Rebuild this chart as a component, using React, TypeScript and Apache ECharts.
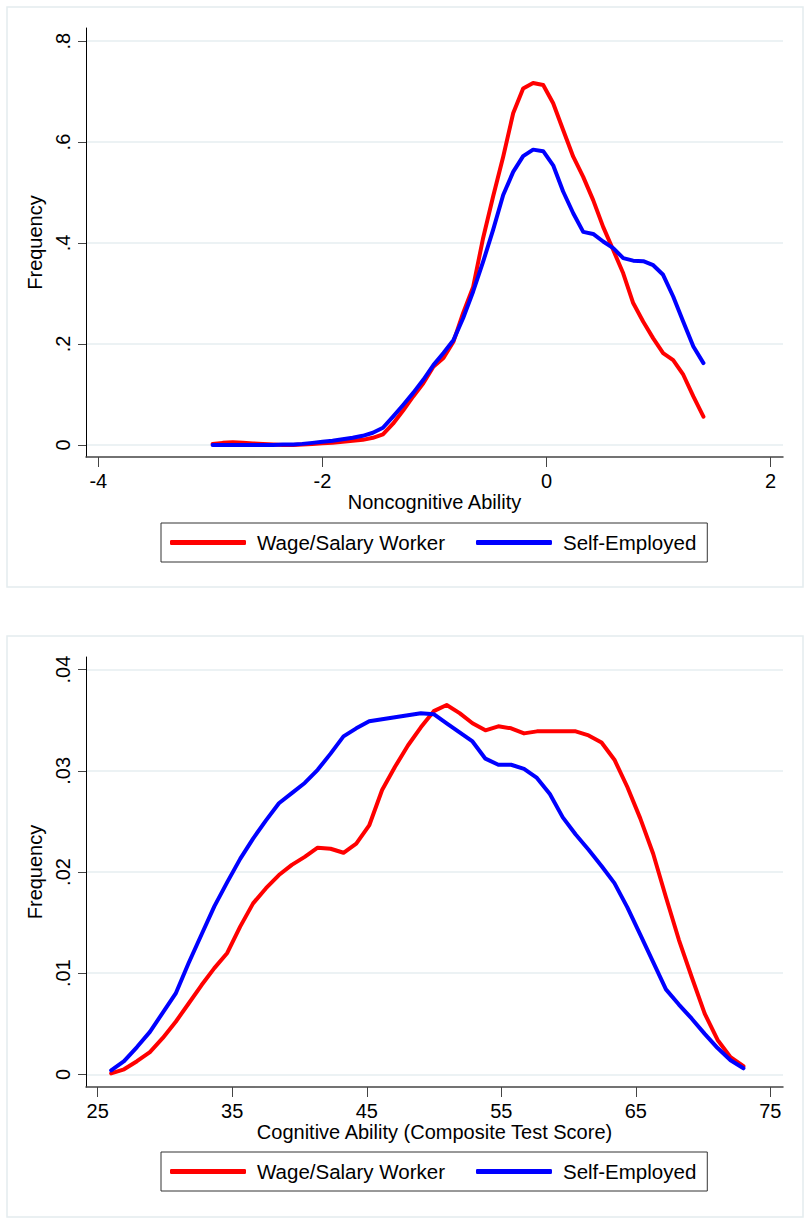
import React, { useEffect, useRef } from 'react';
import * as echarts from 'echarts';

// Top panel: Noncognitive Ability (kernel density evaluation points)
const ncX = [
  -2.98, -2.89, -2.8, -2.71, -2.62, -2.53, -2.44, -2.35, -2.26, -2.18,
  -2.09, -2.0, -1.91, -1.82, -1.73, -1.64, -1.55, -1.46, -1.37, -1.28,
  -1.19, -1.1, -1.01, -0.92, -0.83, -0.745, -0.655, -0.566, -0.477, -0.387,
  -0.298, -0.209, -0.12, -0.03, 0.059, 0.148, 0.238, 0.327, 0.416, 0.505,
  0.595, 0.684, 0.773, 0.863, 0.952, 1.04, 1.13, 1.22, 1.31, 1.4,
];
const ncWage = [
  0.002, 0.004, 0.005, 0.004, 0.003, 0.002, 0.001, 0.0, 0.0, 0.001,
  0.002, 0.003, 0.004, 0.006, 0.008, 0.01, 0.014, 0.021, 0.042, 0.068,
  0.096, 0.122, 0.155, 0.172, 0.205, 0.261, 0.313, 0.41, 0.492, 0.571,
  0.657, 0.706, 0.717, 0.713, 0.677, 0.624, 0.571, 0.531, 0.485, 0.432,
  0.386, 0.34, 0.281, 0.244, 0.211, 0.182, 0.168, 0.139, 0.096, 0.056,
];
const ncSelf = [
  0.0, 0.0, 0.0, 0.0, 0.0, 0.0, 0.0, 0.001, 0.001, 0.002,
  0.004, 0.006, 0.008, 0.011, 0.014, 0.018, 0.024, 0.034, 0.056, 0.079,
  0.103, 0.129, 0.158, 0.182, 0.208, 0.251, 0.304, 0.363, 0.426, 0.495,
  0.541, 0.572, 0.585, 0.582, 0.554, 0.502, 0.459, 0.422, 0.418, 0.403,
  0.39, 0.37, 0.365, 0.364, 0.356, 0.337, 0.294, 0.244, 0.195, 0.162,
];

// Bottom panel: Cognitive Ability (Composite Test Score)
const cgX = [
  26.0, 26.96, 27.92, 28.88, 29.84, 30.8, 31.76, 32.71, 33.67, 34.63,
  35.59, 36.55, 37.51, 38.47, 39.43, 40.39, 41.35, 42.31, 43.27, 44.22,
  45.18, 46.14, 47.1, 48.06, 49.02, 49.98, 50.94, 51.9, 52.86, 53.82,
  54.78, 55.73, 56.69, 57.65, 58.61, 59.57, 60.53, 61.49, 62.45, 63.41,
  64.37, 65.33, 66.29, 67.24, 68.2, 69.16, 70.12, 71.08, 72.04, 73.0,
];
const cgWage = [
  0.0001, 0.0005, 0.0013, 0.0022, 0.0036, 0.0052, 0.007, 0.0088, 0.0105, 0.012,
  0.0146, 0.0169, 0.0184, 0.0197, 0.0207, 0.0215, 0.0224, 0.0223, 0.0219, 0.0228,
  0.0246, 0.0281, 0.0304, 0.0325, 0.0343, 0.0359, 0.0365, 0.0357, 0.0347, 0.034,
  0.0344, 0.0342, 0.0337, 0.0339, 0.0339, 0.0339, 0.0339, 0.0335, 0.0328, 0.0311,
  0.0284, 0.0253, 0.0218, 0.0175, 0.0133, 0.0096, 0.006, 0.0034, 0.0017, 0.0008,
];
const cgSelf = [
  0.0004, 0.0013, 0.0027, 0.0042, 0.0061, 0.008, 0.011, 0.0138, 0.0166, 0.019,
  0.0213, 0.0233, 0.0251, 0.0268, 0.0278, 0.0288, 0.0301, 0.0317, 0.0334, 0.0342,
  0.0349, 0.0351, 0.0353, 0.0355, 0.0357, 0.0356, 0.0347, 0.0338, 0.0329, 0.0312,
  0.0306, 0.0306, 0.0302, 0.0293, 0.0277, 0.0254, 0.0237, 0.0222, 0.0206, 0.0189,
  0.0165, 0.0138, 0.0111, 0.0084, 0.0069, 0.0055, 0.004, 0.0026, 0.0014, 0.0006,
];

const ncXTicks = [-4, -2, 0, 2];
const ncYTicks = [0, 0.2, 0.4, 0.6, 0.8];
const cgXTicks = [25, 35, 45, 55, 65, 75];
const cgYTicks = [0, 0.01, 0.02, 0.03, 0.04];

const seriesNames = ['Wage/Salary Worker', 'Self-Employed'];
const RED = '#ff0000';
const BLUE = '#0000ff';
const FONT = '"Liberation Sans", Arial, Helvetica, sans-serif';

function fmtY(v: number): string {
  if (v === 0) return '0';
  return String(v).replace(/^0(?=\.)/, '');
}

function xAxisOpt(grid: number, min: number, max: number, ticks: number[], name: string) {
  return {
    type: 'value',
    gridIndex: grid,
    min,
    max,
    name,
    nameLocation: 'middle',
    nameGap: 33,
    nameTextStyle: { fontSize: 20, color: '#000', fontFamily: FONT },
    axisLine: { show: true, onZero: false, lineStyle: { color: '#444', width: 1.5 } },
    axisTick: { show: true, length: 10, customValues: ticks, lineStyle: { color: '#444', width: 1 } },
    axisLabel: {
      customValues: ticks,
      margin: 14,
      fontSize: 20,
      color: '#000',
      fontFamily: FONT,
      formatter: (v: number) => String(v),
    },
    splitLine: { show: false },
  };
}

function yAxisOpt(grid: number, min: number, max: number, ticks: number[]) {
  return {
    type: 'value',
    gridIndex: grid,
    min,
    max,
    name: 'Frequency',
    nameLocation: 'middle',
    nameGap: 30,
    nameRotate: 90,
    nameTextStyle: { fontSize: 20, color: '#000', fontFamily: FONT },
    axisLine: { show: true, onZero: false, lineStyle: { color: '#000', width: 1 } },
    axisTick: { show: true, length: 8, customValues: ticks, lineStyle: { color: '#444', width: 1 } },
    axisLabel: {
      customValues: ticks,
      rotate: 90,
      margin: 13,
      fontSize: 20,
      color: '#000',
      fontFamily: FONT,
      formatter: (v: number) => fmtY(v),
    },
    splitLine: { show: true, lineStyle: { color: '#e6eef0', width: 1.5 } },
  };
}

function lineSeries(name: string, color: string, axis: number, xs: number[], ys: number[]) {
  return {
    type: 'line',
    name,
    xAxisIndex: axis,
    yAxisIndex: axis,
    data: xs.map((x, i) => [x, ys[i]]),
    symbol: 'none',
    smooth: false,
    lineStyle: { color, width: 4, cap: 'round', join: 'round' },
    itemStyle: { color },
  };
}

function legendOpt(top: number) {
  return {
    left: 161,
    top,
    orient: 'horizontal',
    data: seriesNames.map((n) => ({ name: n, icon: 'roundRect' })),
    itemWidth: 76,
    itemHeight: 5,
    itemGap: 31,
    padding: [9, 11, 9, 9],
    borderColor: '#333',
    borderWidth: 1,
    borderRadius: 0,
    selectedMode: false,
    textStyle: { fontSize: 20.5, color: '#000', fontFamily: FONT, padding: [0, 0, 0, 6] },
  };
}

export default function App() {
  const ref = useRef<HTMLDivElement>(null);

  useEffect(() => {
    if (!ref.current) return;
    const chart = echarts.init(ref.current, null, { renderer: 'svg', width: 804, height: 1218 });
    chart.setOption({
      animation: false,
      backgroundColor: '#ffffff',
      textStyle: { fontFamily: FONT },
      graphic: [
        {
          type: 'rect',
          shape: { x: 7, y: 7, width: 796, height: 580 },
          style: { fill: 'none', stroke: '#e4ecee', lineWidth: 1.5 },
          silent: true,
        },
        {
          type: 'rect',
          shape: { x: 7, y: 636, width: 796, height: 581 },
          style: { fill: 'none', stroke: '#e4ecee', lineWidth: 1.5 },
          silent: true,
        },
      ],
      grid: [
        { left: 86, top: 28, width: 697, height: 429, containLabel: false },
        { left: 86, top: 657, width: 697, height: 430, containLabel: false },
      ],
      xAxis: [
        xAxisOpt(0, -4.11, 2.11, ncXTicks, 'Noncognitive Ability'),
        xAxisOpt(1, 24.13, 75.94, cgXTicks, 'Cognitive Ability (Composite Test Score)'),
      ],
      yAxis: [yAxisOpt(0, -0.024, 0.826, ncYTicks), yAxisOpt(1, -0.00125, 0.04125, cgYTicks)],
      legend: [legendOpt(523), legendOpt(1152)],
      series: [
        lineSeries(seriesNames[0], RED, 0, ncX, ncWage),
        lineSeries(seriesNames[1], BLUE, 0, ncX, ncSelf),
        lineSeries(seriesNames[0], RED, 1, cgX, cgWage),
        lineSeries(seriesNames[1], BLUE, 1, cgX, cgSelf),
      ],
    });
    return () => chart.dispose();
  }, []);

  return (
    <div
      ref={ref}
      style={{ position: 'absolute', left: 0, top: 0, width: 804, height: 1218, background: '#fff' }}
    />
  );
}
